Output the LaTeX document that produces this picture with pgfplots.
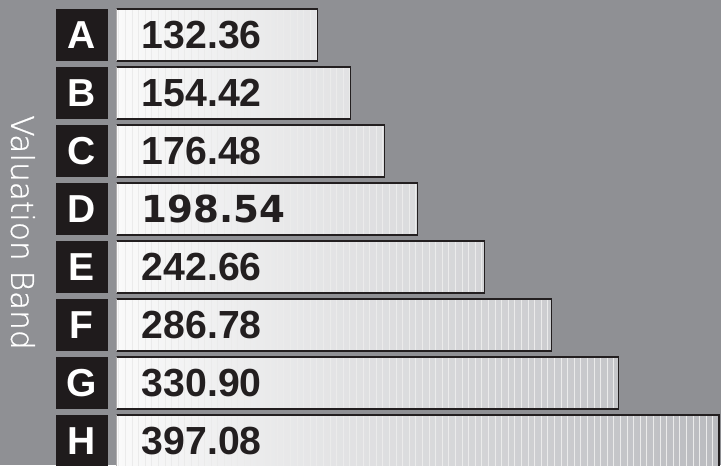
\documentclass[border=0pt]{standalone}
\usepackage{pgfplots}
\pgfplotsset{compat=1.18}
\usepackage{pgfplotstable}
\usepackage{fontspec}
\setmainfont{Liberation Sans}
\newfontfamily\heavy{DejaVu Sans}
\newfontfamily\light{DejaVu Sans ExtraLight}[FakeBold=0.8]
\usetikzlibrary{patterns.meta}
\definecolor{bg}{RGB}{143,144,148}
\definecolor{ink}{RGB}{35,31,32}
\definecolor{boxc}{RGB}{31,27,28}
\definecolor{barend}{RGB}{186,187,191}
\definecolor{barstart}{RGB}{250,250,250}

\pgfplotstableread{
val pos
132.36 0
154.42 1
176.48 2
198.54 3
242.66 4
286.78 5
330.90 6
397.08 7
}\data

\begin{document}
\begin{tikzpicture}
\fill[bg] (0,0) rectangle (360.5pt,232.5pt);
\useasboundingbox (0,0) rectangle (360.5pt,232.5pt);
\begin{axis}[
  at={(58.25pt,0pt)}, anchor=south west,
  scale only axis, width=302.25pt, height=232.5pt,
  xmin=0, xmax=398.5, ymin=-0.603, ymax=7.414, y dir=reverse,
  axis line style={draw=none}, major tick length=0pt, xtick=\empty,
  ytick={0,...,7}, yticklabels={A,B,C,D,E,F,G,H},
  yticklabel style={font=\fontsize{19.5}{19.5}\selectfont\bfseries, text=white,
    fill=boxc, minimum width=26pt, minimum height=26pt, inner sep=0pt,
    anchor=east, xshift=-4.25pt},
  ylabel={Valuation Band},
  ylabel style={at={(axis description cs:-0.155,0.5)}, anchor=center, rotate=180,
    font=\light\fontsize{15.6}{15.6}\selectfont, text=white},
]
\addplot[xbar, bar shift=0pt, bar width=26pt, draw=none,
  left color=barstart, right color=barend] table[x=val, y=pos]{\data};
\addplot[xbar, bar shift=0pt, bar width=26pt, draw=ink, line width=0.7pt,
  pattern={Lines[angle=90,distance=3.3pt,line width=0.35pt]}, pattern color=black!8]
  table[x=val, y=pos]{\data};
\addplot[draw=none, nodes near coords, point meta=explicit symbolic,
  nodes near coords style={font=\fontsize{19.6}{19.6}\selectfont\bfseries, text=ink,
    anchor=west, inner sep=0pt, xshift=12.5pt}]
  coordinates {(0,0)[132.36] (0,1)[154.42] (0,2)[176.48] (0,4)[242.66]
               (0,5)[286.78] (0,6)[330.90] (0,7)[397.08]};
\addplot[draw=none, nodes near coords, point meta=explicit symbolic,
  nodes near coords style={font=\heavy\bfseries\fontsize{18.6}{18.6}\selectfont, text=ink,
    anchor=west, inner sep=0pt, xshift=12.5pt}]
  coordinates {(0,3)[198.54]};
\end{axis}
\end{tikzpicture}
\end{document}
